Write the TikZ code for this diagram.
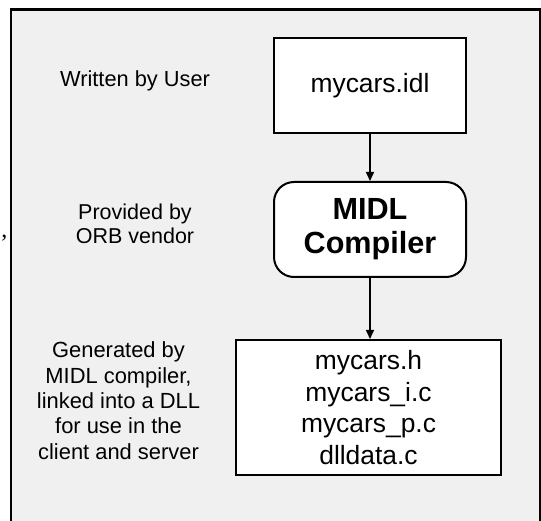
\documentclass[tikz,border=0pt]{standalone}
\usepackage{fontspec}
\setmainfont{Liberation Sans}
\newfontfamily\commafont{Liberation Serif}
\usetikzlibrary{arrows.meta}
\begin{document}
\begin{tikzpicture}[x=1pt,y=-1pt,
  filebox/.style={draw=black,line width=2pt,fill=white,inner sep=0pt,minimum width=192pt,minimum height=95pt,align=center},
  sidelabel/.style={inner sep=0pt,align=center},
  flow/.style={line width=1.5pt,-{Triangle[length=9pt,width=8pt]}}]
\useasboundingbox (0,0) rectangle (541,521);
\fill[white] (0,0) rectangle (541,521);
\draw[line width=2.5pt,fill={rgb,255:red,240;green,240;blue,240}] (11,9.5) rectangle (540,540);
\node[filebox,font=\fontsize{26.4}{31.5}\selectfont] (idl) at (370,85.5) {mycars.idl};
\node[filebox,rounded corners=20pt,font=\fontsize{30.6}{34}\selectfont\bfseries] (midl) at (370,229.5) {MIDL\\Compiler};
\node[filebox,minimum width=265pt,minimum height=135pt,font=\fontsize{26.4}{31.5}\selectfont] (out) at (368.5,407.5) {mycars.h\\mycars\_i.c\\mycars\_p.c\\dlldata.c};
\draw[flow] (idl) -- (midl);
\draw[flow] (midl.south) -- (midl.south |- out.north);
\node[sidelabel,font=\fontsize{21.8}{24}\selectfont] (w) at (135,81) {Written by User};
\node[sidelabel,font=\fontsize{21.5}{23.5}\selectfont] (p) at (135,224) {Provided by\\ORB vendor};
\node[sidelabel,font=\fontsize{21.9}{25.3}\selectfont] (g) at (118.5,400.7) {Generated by\\MIDL compiler,\\linked into a DLL\\for use in the\\client and server};
\node[inner sep=0pt,font=\commafont\fontsize{24}{28}\selectfont] (comma) at (4.5,238) {,};
\end{tikzpicture}
\end{document}
